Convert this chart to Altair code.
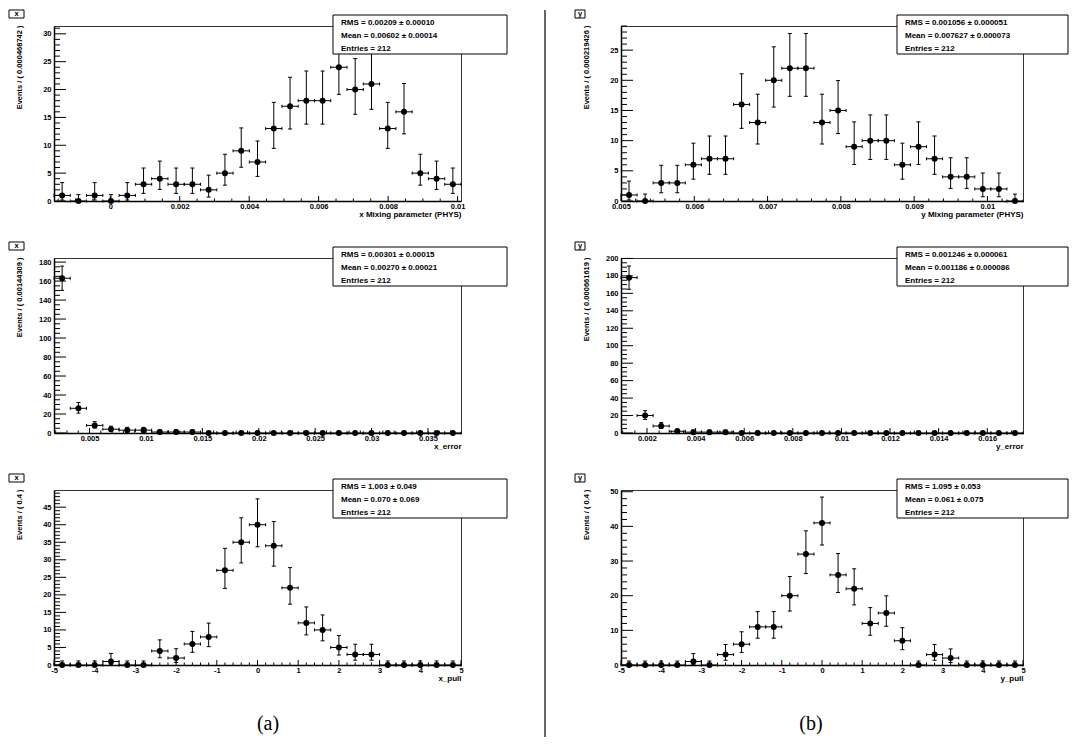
import math
import numpy as np
import pandas as pd
import altair as alt

FONT = "Liberation Sans"

# ---------------- data (events per bin) ----------------
x_mix_counts = [1, 0, 1, 0, 1, 3, 4, 3, 3, 2, 5, 9, 7, 13, 17, 18, 18, 24, 20, 21, 13, 16, 5, 4, 3]
y_mix_counts = [1, 0, 3, 3, 6, 7, 7, 16, 13, 20, 22, 22, 13, 15, 9, 10, 10, 6, 9, 7, 4, 4, 2, 2, 0]
x_err_counts = [163, 26, 8, 4, 3, 3, 1, 1, 1, 0, 0, 0, 0, 0, 0, 0, 0, 0, 0, 0, 0, 0, 0, 0, 0]
y_err_counts = [178, 20, 8, 2, 1, 1, 1, 0, 0, 0, 0, 0, 0, 0, 0, 0, 0, 0, 0, 0, 0, 0, 0, 0, 0]
x_pull_counts = [0, 0, 0, 1, 0, 0, 4, 2, 6, 8, 27, 35, 40, 34, 22, 12, 10, 5, 3, 3, 0, 0, 0, 0, 0]
y_pull_counts = [0, 0, 0, 0, 1, 0, 3, 6, 11, 11, 20, 32, 41, 26, 22, 12, 15, 7, 0, 3, 2, 0, 0, 0, 0]

# (first bin edge, bin width)
x_mix_bins = (-0.00162, 0.000468742)
y_mix_bins = (0.005, 0.000219426)
x_err_bins = (0.00185, 0.00144309)
y_err_bins = (0.00093, 0.000661619)
pull_bins = (-5.0, 0.4)

# axis tick labels
x_mix_ticks = [0, 0.002, 0.004, 0.006, 0.008, 0.01]
y_mix_ticks = [0.005, 0.006, 0.007, 0.008, 0.009, 0.01]
x_err_ticks = [0.005, 0.01, 0.015, 0.02, 0.025, 0.03, 0.035]
y_err_ticks = [0.002, 0.004, 0.006, 0.008, 0.01, 0.012, 0.014, 0.016]
pull_ticks = [-5, -4, -3, -2, -1, 0, 1, 2, 3, 4, 5]
ev_ticks_5_30 = [0, 5, 10, 15, 20, 25, 30]
ev_ticks_5_25 = [0, 5, 10, 15, 20, 25]
ev_ticks_20_180 = [0, 20, 40, 60, 80, 100, 120, 140, 160, 180]
ev_ticks_20_200 = [0, 20, 40, 60, 80, 100, 120, 140, 160, 180, 200]
ev_ticks_5_45 = [0, 5, 10, 15, 20, 25, 30, 35, 40, 45]
ev_ticks_10_50 = [0, 10, 20, 30, 40, 50]

# statistics boxes
x_mix_stats = ["RMS =  0.00209 \u00b1 0.00010", "Mean =  0.00602 \u00b1 0.00014", "Entries =  212"]
y_mix_stats = ["RMS =  0.001056 \u00b1 0.000051", "Mean =  0.007627 \u00b1 0.000073", "Entries =  212"]
x_err_stats = ["RMS =  0.00301 \u00b1 0.00015", "Mean =  0.00270 \u00b1 0.00021", "Entries =  212"]
y_err_stats = ["RMS =  0.001246 \u00b1 0.000061", "Mean =  0.001186 \u00b1 0.000086", "Entries =  212"]
x_pull_stats = ["RMS =  1.003 \u00b1 0.049", "Mean =  0.070 \u00b1 0.069", "Entries =  212"]
y_pull_stats = ["RMS =  1.095 \u00b1 0.053", "Mean =  0.061 \u00b1 0.075", "Entries =  212"]


def poisson_interval(n):
    """68% Poisson interval for an observed count (as drawn by RooFit)."""
    if n == 0:
        return 0.0, 1.148
    if n > 100:
        s = math.sqrt(n)
        return n - s, n + s
    alpha = 0.158655

    def cdf(k, mu):
        term = math.exp(-mu)
        tot = 0.0
        for i in range(k + 1):
            tot += term
            term *= mu / (i + 1)
        return tot

    a, b = float(n), n + 10 * math.sqrt(n) + 10
    for _ in range(80):
        m = 0.5 * (a + b)
        if cdf(n, m) > alpha:
            a = m
        else:
            b = m
    up = 0.5 * (a + b)
    a, b = 0.0, float(n)
    for _ in range(80):
        m = 0.5 * (a + b)
        if cdf(n - 1, m) > 1 - alpha:
            a = m
        else:
            b = m
    lo = 0.5 * (a + b)
    return lo, up


def minor_values(d0, d1, step, majors):
    k0 = math.ceil(d0 / step - 1e-9)
    k1 = math.floor(d1 / step + 1e-9)
    out = []
    for k in range(k0, k1 + 1):
        v = k * step
        if all(abs(v - m) > step * 0.01 for m in majors):
            out.append(v)
    return out


ONE = pd.DataFrame({"a": [0]})


def panel(counts, bins, ytop, xticks, xminor, yticks, yminor, xtitle, ytitle,
          stats, tag, w, h, box_x0, box_w, tag_x0, tag_x1, extra=()):
    start, bw = bins
    k = np.arange(len(counts))
    lo = start + k * bw
    hi = lo + bw
    xc = lo + bw / 2
    errs = [poisson_interval(n) for n in counts]
    df = pd.DataFrame({"lo": lo, "hi": hi, "xc": xc, "n": counts,
                       "elo": [e[0] for e in errs], "ehi": [e[1] for e in errs]})
    xdom = [start, start + len(counts) * bw]
    xs = alt.Scale(domain=xdom, nice=False, zero=False)
    ys = alt.Scale(domain=[0, ytop], nice=False, zero=False)

    xaxis = alt.Axis(values=xticks, labelExpr="'' + datum.value", ticks=False, tickSize=0,
                     grid=False, domainColor="black", domainWidth=1.5,
                     labelFont=FONT, labelFontWeight="bold", labelFontSize=7.5,
                     labelColor="black", labelPadding=1, labelFlush=False, labelOverlap=False,
                     title=xtitle, titleFont=FONT, titleFontWeight="bold", titleFontSize=8,
                     titleColor="black", titleX=w, titleY=13, titleAlign="right",
                     titleBaseline="middle")
    yaxis = alt.Axis(values=yticks, labelExpr="'' + datum.value", ticks=False, tickSize=0,
                     grid=False, domainColor="black", domainWidth=1.5,
                     labelFont=FONT, labelFontWeight="bold", labelFontSize=7.5,
                     labelColor="black", labelPadding=3, labelOverlap=False,
                     title=ytitle, titleFont=FONT, titleFontWeight="bold", titleFontSize=7.5,
                     titleColor="black", titleAngle=270, titleX=-31, titleY=-1,
                     titleAlign="right", titleBaseline="bottom")

    base = alt.Chart(df)
    X = lambda f: alt.X(f"{f}:Q", scale=xs, axis=xaxis)
    Y = lambda f: alt.Y(f"{f}:Q", scale=ys, axis=yaxis)
    rule = dict(color="black", strokeWidth=1)

    layers = []
    # inward ticks (ROOT style)
    xmaj = pd.DataFrame({"v": xticks})
    xmin = pd.DataFrame({"v": minor_values(xdom[0], xdom[1], xminor, xticks)})
    ymaj = pd.DataFrame({"v": yticks})
    ymin = pd.DataFrame({"v": minor_values(0, ytop, yminor, yticks)})
    layers.append(alt.Chart(xmaj).mark_rule(**rule).encode(x=X("v"), y=alt.value(h), y2=alt.value(h - 5)))
    layers.append(alt.Chart(xmin).mark_rule(**rule).encode(x=X("v"), y=alt.value(h), y2=alt.value(h - 2.5)))
    layers.append(alt.Chart(ymaj).mark_rule(**rule).encode(y=Y("v"), x=alt.value(0), x2=alt.value(12)))
    layers.append(alt.Chart(ymin).mark_rule(**rule).encode(y=Y("v"), x=alt.value(0), x2=alt.value(6)))

    # error bars
    layers.append(base.mark_rule(**rule).encode(x=X("lo"), x2="hi", y=Y("n")))
    layers.append(base.mark_rule(**rule).encode(x=X("xc"), y=Y("elo"), y2="ehi"))
    layers.append(base.mark_rule(xOffset=-2, x2Offset=2, **rule).encode(x=X("xc"), x2="xc", y=Y("ehi")))
    layers.append(base.mark_rule(xOffset=-2, x2Offset=2, **rule).encode(x=X("xc"), x2="xc", y=Y("elo")))
    layers.append(base.mark_rule(yOffset=-1.5, y2Offset=1.5, **rule).encode(x=X("lo"), y=Y("n"), y2="n"))
    layers.append(base.mark_rule(yOffset=-1.5, y2Offset=1.5, **rule).encode(x=X("hi"), y=Y("n"), y2="n"))
    # points
    layers.append(base.mark_circle(size=36, color="black", opacity=1).encode(x=X("xc"), y=Y("n")))

    # statistics box
    layers.append(alt.Chart(ONE).mark_rect(fill="white", stroke="black", strokeWidth=1).encode(
        x=alt.value(box_x0), x2=alt.value(box_x0 + box_w), y=alt.value(-11), y2=alt.value(28)))
    for s, ty in zip(stats, [-3, 10, 23]):
        layers.append(alt.Chart(ONE).mark_text(align="left", baseline="middle", font=FONT,
                                               fontWeight="bold", fontSize=8, color="black").encode(
            x=alt.value(box_x0 + 8), y=alt.value(ty), text=alt.value(s)))
    # variable tag box
    layers.append(alt.Chart(ONE).mark_rect(fill="white", stroke="black", strokeWidth=1).encode(
        x=alt.value(tag_x0), x2=alt.value(tag_x1), y=alt.value(-16), y2=alt.value(-8)))
    layers.append(alt.Chart(ONE).mark_text(align="center", baseline="middle", font=FONT,
                                           fontWeight="bold", fontSize=7.5, color="black").encode(
        x=alt.value((tag_x0 + tag_x1) / 2), y=alt.value(-12), text=alt.value(tag)))
    layers.extend(extra)
    return alt.layer(*layers).properties(width=w, height=h)


WA, WB, H = 407, 402, 175

divider = alt.Chart(ONE).mark_rule(color="black", strokeWidth=1.2).encode(
    x=alt.value(-76), y=alt.value(-16), y2=alt.value(711))
cap_a = alt.Chart(ONE).mark_text(font="Liberation Serif", fontSize=20, color="black",
                                 align="center", baseline="middle").encode(
    x=alt.value(214), y=alt.value(234), text=alt.value("(a)"))
cap_b = alt.Chart(ONE).mark_text(font="Liberation Serif", fontSize=20, color="black",
                                 align="center", baseline="middle").encode(
    x=alt.value(190), y=alt.value(234), text=alt.value("(b)"))

a1 = panel(x_mix_counts, x_mix_bins, 31.4, x_mix_ticks, 0.0005, ev_ticks_5_30, 1,
           "x Mixing parameter (PHYS)", "Events / ( 0.000468742 )", x_mix_stats, "x",
           WA, H, 279, 174, -45, -30)
b1 = panel(y_mix_counts, y_mix_bins, 29.0, y_mix_ticks, 0.0002, ev_ticks_5_25, 1,
           "y Mixing parameter (PHYS)", "Events / ( 0.000219426 )", y_mix_stats, "y",
           WB, H, 276, 171, -46, -36, extra=[divider])
a2 = panel(x_err_counts, x_err_bins, 184.3, x_err_ticks, 0.001, ev_ticks_20_180, 5,
           "x_error", "Events / ( 0.00144309 )", x_err_stats, "x",
           WA, H, 279, 174, -45, -30)
b2 = panel(y_err_counts, y_err_bins, 200.5, y_err_ticks, 0.0005, ev_ticks_20_200, 5,
           "y_error", "Events / ( 0.000661619 )", y_err_stats, "y",
           WB, H, 276, 171, -46, -36)
a3 = panel(x_pull_counts, pull_bins, 49.9, pull_ticks, 0.2, ev_ticks_5_45, 1,
           "x_pull", "Events / ( 0.4 )", x_pull_stats, "x",
           WA, H, 279, 174, -45, -30, extra=[cap_a])
b3 = panel(y_pull_counts, pull_bins, 50.5, pull_ticks, 0.2, ev_ticks_10_50, 2,
           "y_pull", "Events / ( 0.4 )", y_pull_stats, "y",
           WB, H, 276, 171, -46, -36, extra=[cap_b])

chart = alt.concat(a1, b1, a2, b2, a3, b3, columns=2,
                   spacing={"row": 57, "column": 160}, bounds="flush").properties(
    padding=0, background="white"
).configure_view(stroke="#333", strokeWidth=1)

chart.save("out.html", embed_options={"renderer": "svg", "actions": False})
